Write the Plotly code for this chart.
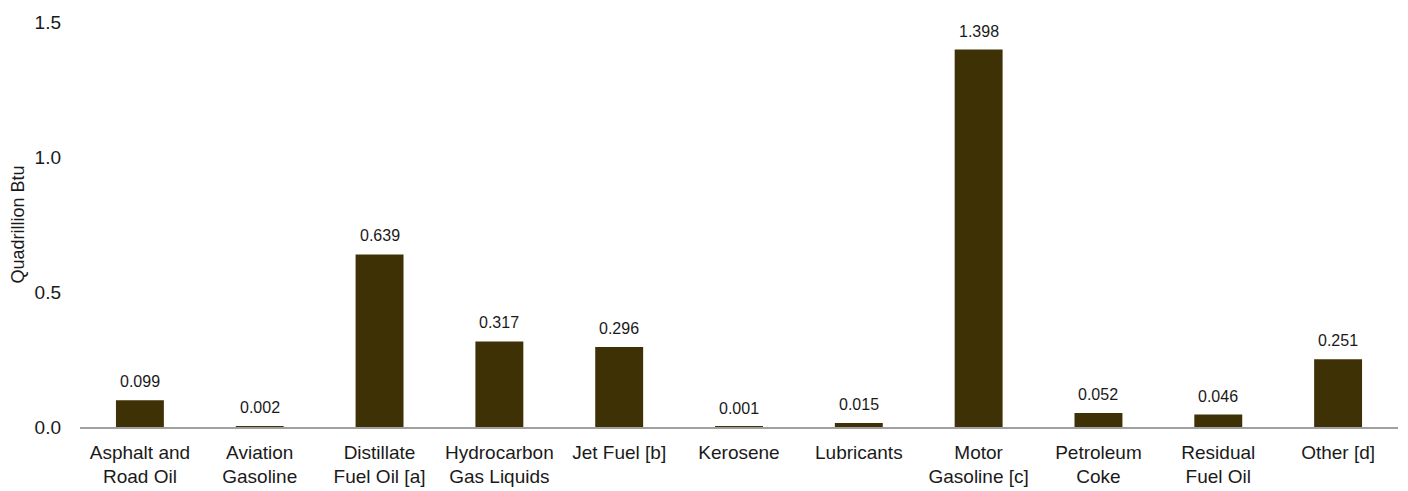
import plotly.graph_objects as go

categories = ["Asphalt and<br>Road Oil", "Aviation<br>Gasoline", "Distillate<br>Fuel Oil [a]",
              "Hydrocarbon<br>Gas Liquids", "Jet Fuel [b]", "Kerosene", "Lubricants",
              "Motor<br>Gasoline [c]", "Petroleum<br>Coke", "Residual<br>Fuel Oil", "Other [d]"]
values = [0.099, 0.002, 0.639, 0.317, 0.296, 0.001, 0.015, 1.398, 0.052, 0.046, 0.251]
labels = [f"{v:.3f}" for v in values]
y_ticks = [0.0, 0.5, 1.0, 1.5]
y_ticklabels = ["0.0", "0.5", "1.0", "1.5"]

FONT = "Liberation Sans, Arial, sans-serif"
TXT = "#1a1a1a"

fig = go.Figure(go.Bar(
    x=categories, y=values,
    marker=dict(color="#3f3106", line=dict(width=0)),
    hoverinfo="x+y",
))
for c, v, t in zip(categories, values, labels):
    fig.add_annotation(x=c, y=v, text=t, showarrow=False, yanchor="bottom",
                       yshift=8, font=dict(size=16, color=TXT, family=FONT))

# page body has an 8px margin, so size/margins are reduced accordingly
fig.update_layout(
    width=1400, height=483,
    margin=dict(l=72, r=10, t=14, b=64),
    plot_bgcolor="white", paper_bgcolor="white",
    bargap=0.6, showlegend=False,
    font=dict(family=FONT, size=19, color=TXT),
)
fig.update_xaxes(showline=True, linecolor="#a0a0a0", linewidth=1.5, ticks="",
                 tickfont=dict(size=19), showgrid=False, automargin=False,
                 ticklabelstandoff=7)
fig.update_yaxes(range=[0, 1.5], tickvals=y_ticks, ticktext=y_ticklabels,
                 showgrid=False, zeroline=False, showline=False,
                 tickfont=dict(size=19), ticks="", automargin=False,
                 ticklabelstandoff=18,
                 title=dict(text="Quadrillion Btu", font=dict(size=18), standoff=8))
fig.write_html("out.html")
